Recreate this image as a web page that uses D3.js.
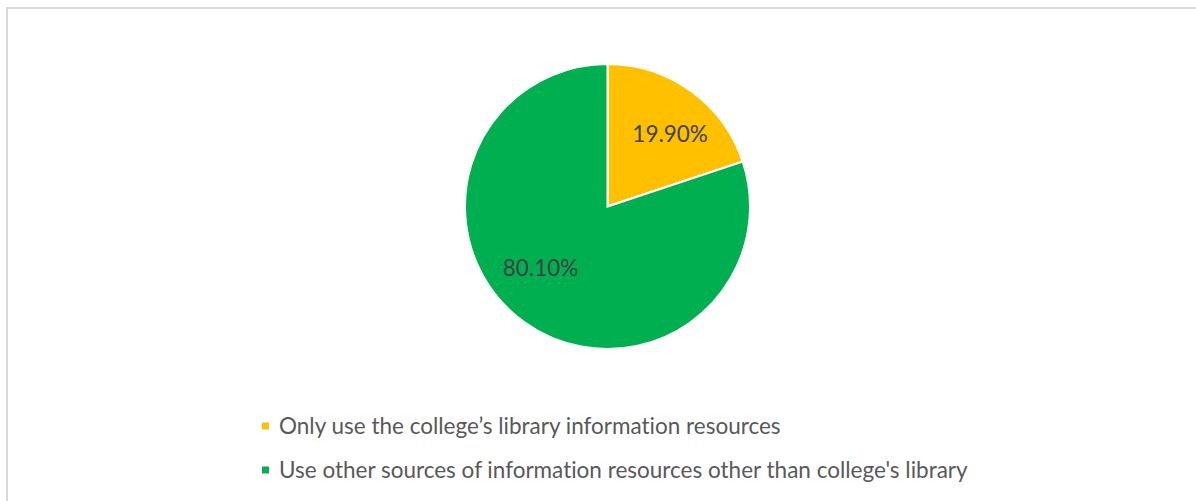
<!DOCTYPE html>
<html>
<head>
<meta charset="utf-8">
<script src="https://cdn.jsdelivr.net/npm/d3@7/dist/d3.min.js"></script>
<style>
  html, body { margin: 0; padding: 0; background: #ffffff; }
  svg { display: block; }
  text { font-variant-ligatures: none; font-feature-settings: "liga" 0, "clig" 0; }
</style>
</head>
<body>
<svg id="chart" width="1196" height="501"></svg>
<script>
const categories = [
  "Only use the college\u2019s library information resources",
  "Use other sources of information resources other than college's library"
];
const values = [19.9, 80.1];
const valueLabels = ["19.90%", "80.10%"];
const colors = ["#FFC000", "#00B050"];

const svg = d3.select("#chart");
const W = 1196, H = 501;

// chart area border (extends beyond right/bottom edge as in reference)
svg.append("rect")
  .attr("x", 7).attr("y", 8)
  .attr("width", W + 20).attr("height", H + 20)
  .attr("fill", "#ffffff")
  .attr("stroke", "#d9d9d9")
  .attr("stroke-width", 2);

const cx = 607.5, cy = 206.5, r = 142.5;

const data = categories.map((c, i) => ({ name: c, value: values[i], label: valueLabels[i], color: colors[i] }));

const pie = d3.pie().value(d => d.value).sort(null).startAngle(0).endAngle(2 * Math.PI);
const arcs = pie(data);

const arc = d3.arc().innerRadius(0).outerRadius(r);
const g = svg.append("g").attr("transform", `translate(${cx},${cy})`);

g.selectAll("path.slice")
  .data(arcs)
  .enter().append("path")
  .attr("class", "slice")
  .attr("d", arc)
  .attr("fill", d => d.data.color)
  .attr("stroke", "#ffffff")
  .attr("stroke-width", 2)
  .attr("stroke-linejoin", "miter");

// data labels
const labelShift = [0.09, 0.2]; // angular nudge (radians) to mimic Excel placement
const labelRadius = [0.67, 0.64];
g.selectAll("text.vlabel")
  .data(arcs)
  .enter().append("text")
  .attr("class", "vlabel")
  .attr("transform", (d, i) => {
    const a = (d.startAngle + d.endAngle) / 2 + labelShift[i];
    const rr = r * labelRadius[i];
    return `translate(${rr * Math.sin(a)},${-rr * Math.cos(a)})`;
  })
  .attr("text-anchor", "middle")
  .attr("dy", "0.35em")
  .attr("font-family", "Lato, 'Open Sans', sans-serif")
  .attr("font-size", 22.5)
  .attr("fill", "#404040")
  .text(d => d.data.label);

// legend
const legend = svg.append("g");
const legendY = d3.scalePoint().domain(categories).range([426, 470]);
const items = legend.selectAll("g.item")
  .data(data)
  .enter().append("g")
  .attr("class", "item")
  .attr("transform", d => `translate(262,${legendY(d.name)})`);
items.append("rect")
  .attr("x", 0).attr("y", -3.5)
  .attr("width", 7).attr("height", 7)
  .attr("fill", d => d.color);
items.append("text")
  .attr("x", 17)
  .attr("dy", "0.35em")
  .attr("font-family", "Lato, 'Open Sans', sans-serif")
  .attr("font-size", 22.5)
  .attr("fill", "#595959")
  .text(d => d.name);
</script>
</body>
</html>
